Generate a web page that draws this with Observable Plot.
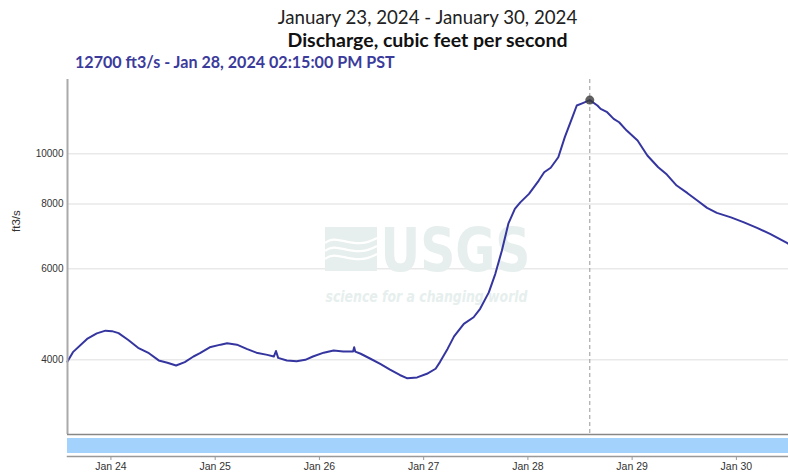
<!DOCTYPE html>
<html><head><meta charset="utf-8">
<script src="https://cdn.jsdelivr.net/npm/d3@7"></script>
<script src="https://cdn.jsdelivr.net/npm/@observablehq/plot@0.6"></script>
<style>
body{margin:0;background:#fff;width:788px;height:473px;overflow:hidden;font-family:Lato,"Open Sans",sans-serif}
#head{position:relative;height:70px;width:788px}
#head div{position:absolute;white-space:nowrap;line-height:1}
.t1{left:67px;width:721px;top:7.5px;text-align:center;font-size:18.7px;color:#222;font-weight:400}
.t2{left:67px;width:721px;top:30px;text-align:center;font-size:19.5px;color:#111;font-weight:700}
.t3{left:75px;top:53.5px;font-size:16.1px;color:#3b3b9c;font-weight:700}
#chart svg{display:block}
</style></head><body>
<div id="head">
  <div class="t1" id="t1"></div>
  <div class="t2" id="t2"></div>
  <div class="t3" id="t3"></div>
</div>
<div id="chart"></div>
<script>
// ---- text ----
const titleDates = "January 23, 2024 - January 30, 2024";
const titleParam = "Discharge, cubic feet per second";
const peakLabel = "12700 ft3/s - Jan 28, 2024 02:15:00 PM PST";
const yLabel = "ft3/s";

// ---- data (times in PST, stored as UTC clock values) ----
const times = [
"2024-01-23T14:00","2024-01-23T15:15","2024-01-23T18:30","2024-01-23T20:45","2024-01-23T22:45",
"2024-01-24T00:15","2024-01-24T01:45","2024-01-24T04:00","2024-01-24T06:15","2024-01-24T08:45",
"2024-01-24T11:00","2024-01-24T13:00","2024-01-24T15:00","2024-01-24T17:00","2024-01-24T19:00",
"2024-01-24T20:30","2024-01-24T22:45","2024-01-25T01:15","2024-01-25T02:45","2024-01-25T05:00",
"2024-01-25T07:15","2024-01-25T09:30","2024-01-25T12:00","2024-01-25T13:30","2024-01-25T14:00",
"2024-01-25T14:30","2024-01-25T16:30","2024-01-25T18:45","2024-01-25T20:45","2024-01-25T22:30",
"2024-01-26T01:00","2024-01-26T03:15","2024-01-26T05:30","2024-01-26T07:45","2024-01-26T08:00",
"2024-01-26T08:15","2024-01-26T09:30","2024-01-26T11:45","2024-01-26T14:00","2024-01-26T16:15",
"2024-01-26T18:30","2024-01-26T20:15","2024-01-26T22:30","2024-01-27T00:45","2024-01-27T02:45",
"2024-01-27T03:45","2024-01-27T05:30","2024-01-27T07:00","2024-01-27T09:15","2024-01-27T11:30",
"2024-01-27T13:00","2024-01-27T15:00","2024-01-27T16:30","2024-01-27T18:00","2024-01-27T19:30",
"2024-01-27T21:00","2024-01-27T22:15","2024-01-28T00:15","2024-01-28T02:30","2024-01-28T03:45",
"2024-01-28T05:15","2024-01-28T07:00","2024-01-28T08:30","2024-01-28T10:15","2024-01-28T11:15",
"2024-01-28T12:30","2024-01-28T14:15","2024-01-28T16:00","2024-01-28T16:45","2024-01-28T18:15",
"2024-01-28T19:45","2024-01-28T21:00","2024-01-28T22:45","2024-01-29T01:15","2024-01-29T03:30",
"2024-01-29T06:00","2024-01-29T08:00","2024-01-29T10:15","2024-01-29T12:45","2024-01-29T15:00",
"2024-01-29T17:15","2024-01-29T19:30","2024-01-29T22:45","2024-01-30T01:45","2024-01-30T04:45",
"2024-01-30T07:45","2024-01-30T11:45","2024-01-30T12:00"];
const discharge = [
3970,4140,4390,4500,4555,
4545,4505,4370,4220,4120,
3990,3950,3900,3960,4060,
4120,4230,4280,4305,4280,
4200,4130,4090,4060,4160,
4035,3990,3975,4000,4060,
4130,4170,4150,4150,4230,
4150,4110,4020,3930,3830,
3740,3685,3700,3760,3845,
3960,4200,4440,4695,4835,
5020,5400,5865,6500,7330,
7830,8060,8370,8880,9215,
9400,9850,10770,11770,12400,
12520,12700,12400,12215,12035,
11685,11510,11090,10610,9925,
9420,9120,8685,8395,8125,
7865,7690,7540,7375,7195,
7005,6720,6700];
const peakTime = ["2024-01-28T14:15"];
const peakValue = [12700];
const xDomainStr = ["2024-01-23T14:00","2024-01-30T12:00"];
const yDomain = [2870, 13920];
const yTicks = [4000, 6000, 8000, 10000];
const xTickDates = ["2024-01-24","2024-01-25","2024-01-26","2024-01-27","2024-01-28","2024-01-29","2024-01-30"];
const statusStart = ["2024-01-23T14:00"];
const statusEnd = ["2024-01-30T12:00"];
const watermarkMain = "USGS";
const watermarkTag = "science for a changing world";

// ---- build ----
const P = s => new Date(s + (s.length <= 10 ? "T00:00Z" : "Z"));
const data = times.map((t, i) => ({t: P(t), v: discharge[i]}));
const peak = peakTime.map((t, i) => ({t: P(t), v: peakValue[i]}));
const xDomain = xDomainStr.map(P);
const xTicks = xTickDates.map(P);
const spans = statusStart.map((s, i) => ({start: P(s), end: P(statusEnd[i])}));

document.getElementById("t1").textContent = titleDates;
document.getElementById("t2").textContent = titleParam;
document.getElementById("t3").textContent = peakLabel;

const axisFont = "'Liberation Sans', Arial, sans-serif";
const wmFont = "'Liberation Sans Narrow','DejaVu Sans Condensed',sans-serif";

const main = Plot.plot({
  width: 788, height: 365,
  marginTop: 9, marginBottom: 1, marginLeft: 67, marginRight: 0,
  style: {fontFamily: axisFont, fontSize: "10px", color: "#333", background: "transparent", overflow: "visible"},
  x: {type: "utc", domain: xDomain, axis: null},
  y: {type: "log", domain: yDomain, axis: null},
  marks: [
    Plot.ruleY(yTicks, {stroke: "#e9e9e9", strokeWidth: 1.5}),
    Plot.text([watermarkMain], {text: d => d, frameAnchor: "top-left", dx: 313, dy: 149, fontSize: 60, fontWeight: "bold",
      fontFamily: wmFont, fill: "#e6efed", textAnchor: "start"}),
    Plot.text([watermarkTag], {text: d => d, frameAnchor: "top-left", dx: 258, dy: 211, fontSize: 16, fontWeight: "bold", fontStyle: "italic",
      fontFamily: wmFont, fill: "#e6efed", textAnchor: "start"}),
    Plot.ruleX(peak, {x: "t", stroke: "#999", strokeDasharray: "4,3", strokeWidth: 1}),
    Plot.line(data, {x: "t", y: "v", stroke: "#3535a0", strokeWidth: 2}),
    Plot.dot(peak, {x: "t", y: "v", r: 4.5, fill: "#3a3a3a", fillOpacity: 0.8, stroke: "none"}),
    Plot.axisY(yTicks, {tickSize: 0, tickPadding: 4, tickFormat: d => String(d), label: null, fill: "#333"}),
    Plot.ruleX([xDomain[0]], {stroke: "#aaa", strokeWidth: 2}),
    Plot.ruleY([yDomain[0]], {stroke: "#888", strokeWidth: 1.5}),
    Plot.text([yLabel], {text: d => d, frameAnchor: "left", rotate: -90, dx: -51, dy: -25, fontSize: 11.5, fill: "#333"})
  ]
});

// watermark fitting and logo
let wmNode = null;
main.querySelectorAll("text").forEach(t => {
  if (t.textContent === watermarkMain) { t.setAttribute("textLength", 150); t.setAttribute("lengthAdjust", "spacingAndGlyphs"); wmNode = t.closest("g"); }
  if (t.textContent === watermarkTag) { t.setAttribute("textLength", 202); t.setAttribute("lengthAdjust", "spacingAndGlyphs"); }
});
if (wmNode) {
  const ns = "http://www.w3.org/2000/svg";
  const g = document.createElementNS(ns, "g");
  const r = document.createElementNS(ns, "rect");
  r.setAttribute("x", 325); r.setAttribute("y", 157); r.setAttribute("width", 52); r.setAttribute("height", 44); r.setAttribute("fill", "#e6efed");
  g.appendChild(r);
  ["M325,173 C338,162 352,182 377,168","M325,181 C338,170 352,190 377,176","M325,189 C338,178 352,198 377,184"].forEach(d => {
    const p = document.createElementNS(ns, "path");
    p.setAttribute("d", d); p.setAttribute("fill", "none"); p.setAttribute("stroke", "#fff"); p.setAttribute("stroke-width", 2.2);
    g.appendChild(p);
  });
  wmNode.parentNode.insertBefore(g, wmNode);
}

const strip = Plot.plot({
  width: 788, height: 38,
  marginTop: 3, marginBottom: 17, marginLeft: 67, marginRight: 0,
  style: {fontFamily: axisFont, fontSize: "10.5px", color: "#333", background: "transparent", overflow: "visible"},
  x: {type: "utc", domain: xDomain, axis: null},
  marks: [
    Plot.rect(spans, {x1: "start", x2: "end", fill: "#a3d3fc", insetBottom: 3}),
    Plot.frame({anchor: "bottom", stroke: "#999", strokeWidth: 1.5}),
    Plot.axisX(xTicks, {tickSize: 4, tickPadding: 2, tickFormat: d3.utcFormat("%b %d"), label: null, stroke: "#999", fill: "#333"})
  ]
});

const c = document.getElementById("chart");
c.appendChild(main);
c.appendChild(strip);
</script>
</body></html>
